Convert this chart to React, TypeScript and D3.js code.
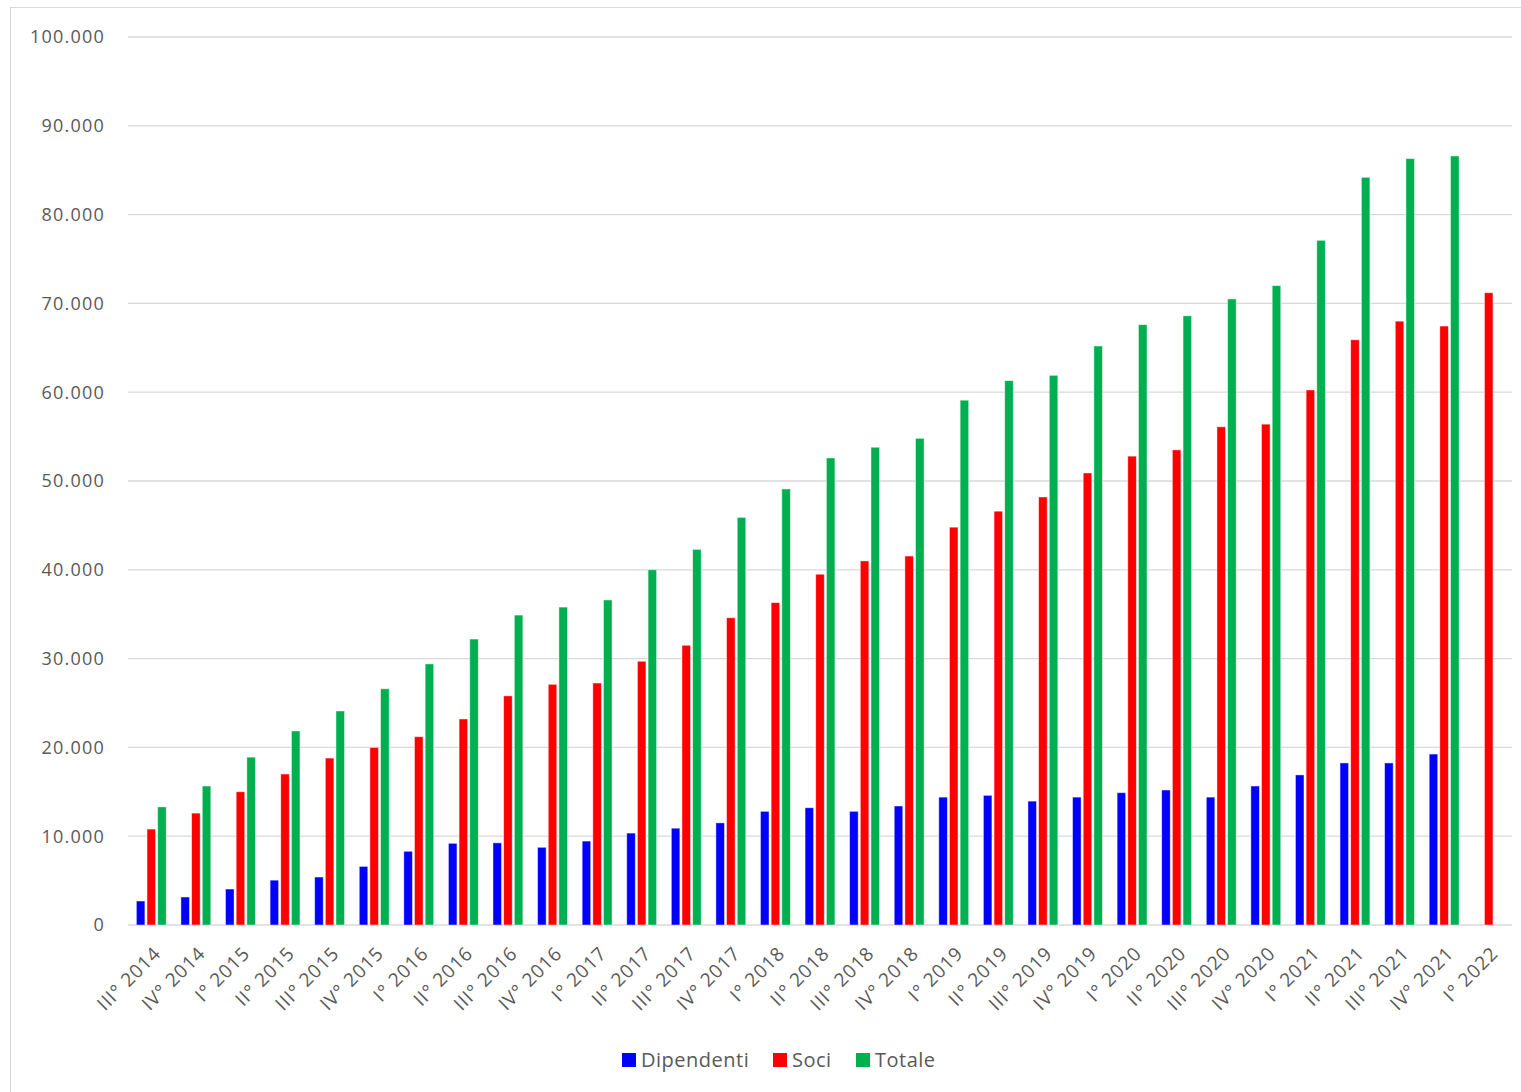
import React from "react";
import * as d3 from "d3";

const quarters = [
  "III° 2014", "IV° 2014",
  "I° 2015", "II° 2015", "III° 2015", "IV° 2015",
  "I° 2016", "II° 2016", "III° 2016", "IV° 2016",
  "I° 2017", "II° 2017", "III° 2017", "IV° 2017",
  "I° 2018", "II° 2018", "III° 2018", "IV° 2018",
  "I° 2019", "II° 2019", "III° 2019", "IV° 2019",
  "I° 2020", "II° 2020", "III° 2020", "IV° 2020",
  "I° 2021", "II° 2021", "III° 2021", "IV° 2021",
  "I° 2022",
];

const dipendenti = [
  2700, 3150, 4050, 5050, 5400, 6600, 8300, 9200, 9250, 8750,
  9450, 10350, 10900, 11500, 12800, 13200, 12800, 13400, 14400, 14600,
  13950, 14400, 14900, 15200, 14400, 15650, 16900, 18250, 18250, 19250,
  null,
];

const soci = [
  10800, 12600, 15000, 17000, 18800, 20000, 21200, 23200, 25800, 27100,
  27250, 29700, 31500, 34600, 36300, 39500, 41000, 41550, 44800, 46600,
  48200, 50900, 52800, 53500, 56100, 56400, 60250, 65900, 68000, 67450,
  71200,
];

const totale = [
  13300, 15650, 18900, 21850, 24100, 26600, 29400, 32200, 34900, 35800,
  36600, 40000, 42300, 45900, 49100, 52600, 53800, 54800, 59100, 61300,
  61900, 65200, 67600, 68600, 70500, 72000, 77100, 84200, 86300, 86600,
  null,
];

const seriesNames = ["Dipendenti", "Soci", "Totale"];
const seriesColors = ["#0000ff", "#ff0000", "#00b050"];
const seriesValues = [dipendenti, soci, totale];

const yTicks = [0, 10000, 20000, 30000, 40000, 50000, 60000, 70000, 80000, 90000, 100000];

const width = 1521;
const height = 1092;
const plot = { left: 128, right: 1510, top: 37, bottom: 925 };
const font = "'Open Sans', 'DejaVu Sans', sans-serif";
const textColor = "#595959";

const itLocale = d3.formatLocale({ decimal: ",", thousands: ".", grouping: [3], currency: ["€", ""] });
const fmt = itLocale.format(",d");

export default function App() {
  const x = d3.scaleBand<string>()
    .domain(quarters)
    .range([plot.left, plot.right])
    .paddingInner(0.33)
    .paddingOuter(0.165);

  const xInner = d3.scaleBand<string>()
    .domain(seriesNames)
    .range([0, x.bandwidth()])
    .paddingInner(0.2);

  const y = d3.scaleLinear().domain([0, 100000]).range([plot.bottom, plot.top]);

  return (
    <svg
      width={width}
      height={height}
      style={{ position: "fixed", top: 0, left: 0, background: "#fff" }}
      fontFamily={font}
    >
      <rect x={10.5} y={7.5} width={width} height={height} fill="#fff" stroke="#d9d9d9" strokeWidth={1} />

      {yTicks.map((t) => (
        <g key={t}>
          <line x1={plot.left} x2={plot.right + 2} y1={y(t)} y2={y(t)} stroke="#d9d9d9" strokeWidth={1.3} />
          <text
            x={105}
            y={y(t)}
            dy="0.35em"
            textAnchor="end"
            fontSize={18}
            letterSpacing={1.2}
            fill={textColor}
          >
            {fmt(t)}
          </text>
        </g>
      ))}

      {seriesNames.map((name, si) => (
        <g key={name}>
          {quarters.map((q, i) => {
            const v = seriesValues[si][i];
            if (v == null) return null;
            const bx = (x(q) ?? 0) + (xInner(name) ?? 0) + 1;
            return (
              <rect
                key={q}
                x={bx}
                y={y(v)}
                width={xInner.bandwidth()}
                height={y(0) - y(v)}
                fill={seriesColors[si]}
                stroke="#ffffff"
                strokeOpacity={0.55}
                strokeWidth={0.8}
              />
            );
          })}
        </g>
      ))}

      {quarters.map((q) => {
        const cx = (x(q) ?? 0) + x.bandwidth() / 2 + 7;
        const cy = 950;
        return (
          <text
            key={q}
            x={cx}
            y={cy}
            dy="0.35em"
            textAnchor="end"
            fontSize={19}
            letterSpacing={0.9}
            fill={textColor}
            transform={`rotate(-45, ${cx}, ${cy})`}
          >
            {q}
          </text>
        );
      })}

      {(() => {
        const items = [
          { name: "Dipendenti", sx: 622 },
          { name: "Soci", sx: 773 },
          { name: "Totale", sx: 856 },
        ];
        return items.map((it, i) => (
          <g key={it.name}>
            <rect x={it.sx} y={1053} width={14} height={14} fill={seriesColors[i]} />
            <text x={it.sx + 19} y={1060} dy="0.36em" fontSize={20} letterSpacing={0.5} fill={textColor}>
              {it.name}
            </text>
          </g>
        ));
      })()}
    </svg>
  );
}
